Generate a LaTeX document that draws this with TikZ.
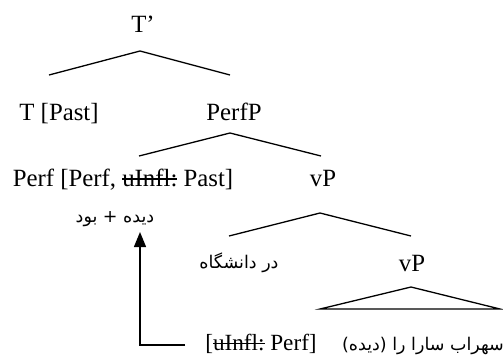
\documentclass[tikz,border=0pt]{standalone}
\usepackage{fontspec}
\setmainfont{Liberation Serif}
\newfontfamily\fa[Script=Arabic]{DejaVu Sans}
\usetikzlibrary{arrows.meta}
\TeXXeTstate=1
\newcommand\strk[1]{\setbox0\hbox{#1}\rlap{\rule[0.24em]{\wd0}{0.07em}}\box0\relax}
\begin{document}
\begin{tikzpicture}[x=1bp,y=-1bp,
  lbl/.style={anchor=base,inner sep=0pt,font=\fontsize{24.8bp}{28bp}\selectfont},
  lblsmall/.style={anchor=base,inner sep=0pt,font=\fontsize{23.2bp}{26bp}\selectfont},
  falbl/.style={anchor=base,inner sep=0pt,font=\fontsize{17.5bp}{20bp}\fa},
  branch/.style={line width=1.3bp},
  arr/.style={line width=1.3bp,-{Triangle[length=15bp,width=12bp]}}]
\useasboundingbox (0,0) rectangle (503,358);
% nodes
\node[lbl] (tbar) at (143,32) {T'};
\node[lbl] (t) at (59,120) {T [Past]};
\node[lbl] (perfp) at (234,120) {PerfP};
\node[lbl] (perf) at (123,186) {Perf [Perf, \strk{uInfl:} Past]};
\node[lbl] (vp1) at (323,186) {vP};
\node[falbl] (perffa) at (115,222) {\beginR دیده + بود\endR};
\node[falbl] (dar) at (239,268) {\beginR در دانشگاه\endR};
\node[lbl] (vp2) at (412,271) {vP};
\node[lblsmall] (ul) at (261,350) {[\strk{uInfl:} Perf]};
\node[falbl] (sohrab) at (423,350) {\beginR سهراب سارا را (دیده)\endR};
% branch points
\coordinate (a1) at (140,51);
\coordinate (a1l) at (49,75);
\coordinate (a1r) at (230,75);
\coordinate (a2) at (230,133);
\coordinate (a2l) at (139,156);
\coordinate (a2r) at (321,156);
\coordinate (a3) at (320,213);
\coordinate (a3l) at (229,236);
\coordinate (a3r) at (411,236);
\coordinate (tri) at (411,287);
\coordinate (tril) at (320,309);
\coordinate (trir) at (500,309);
\coordinate (arrstart) at (185,345);
\coordinate (arrtip) at (140,232);
% connectors
\draw[branch] (a1l) -- (a1) -- (a1r);
\draw[branch] (a2l) -- (a2) -- (a2r);
\draw[branch] (a3l) -- (a3) -- (a3r);
\draw[branch] (tril) -- (tri) -- (trir) -- cycle;
\draw[arr] (arrstart) -| (arrtip);
\end{tikzpicture}
\end{document}
